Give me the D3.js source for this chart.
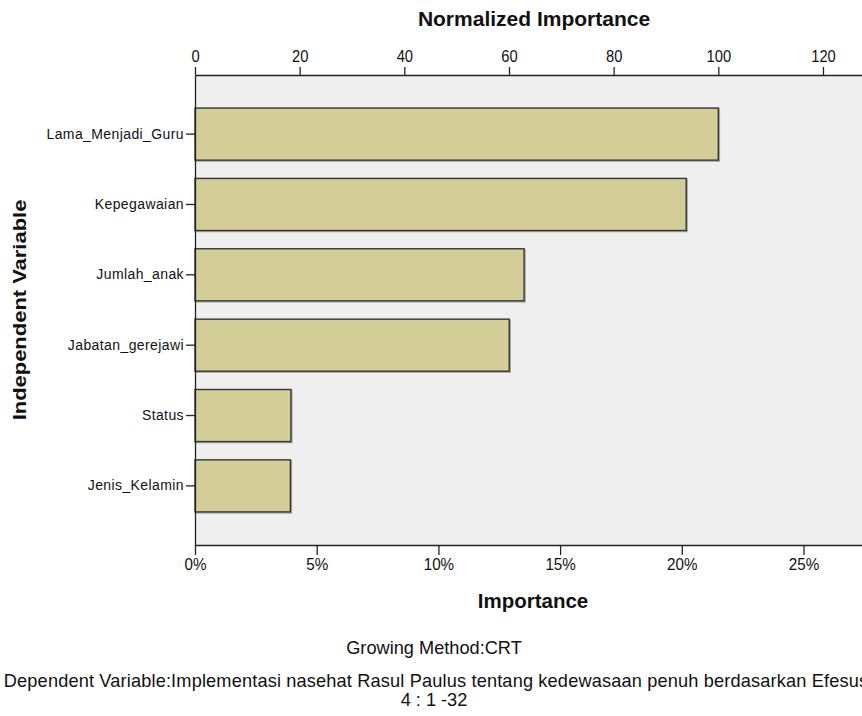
<!DOCTYPE html>
<html>
<head>
<meta charset="utf-8">
<script src="https://cdn.jsdelivr.net/npm/d3@7"></script>
<style>
  body { margin: 0; background: #fff; }
  svg { display: block; }
</style>
</head>
<body>
<div id="chart"></div>
<script>
const variables = ['Lama_Menjadi_Guru', 'Kepegawaian', 'Jumlah_anak', 'Jabatan_gerejawi', 'Status', 'Jenis_Kelamin']
const importance = [0.2150, 0.2018, 0.1352, 0.1291, 0.0394, 0.0392]
const normalizedTicks = [0, 20, 40, 60, 80, 100, 120]
const importanceTicks = [0, 0.05, 0.10, 0.15, 0.20, 0.25]

const width = 862
const height = 716
const plot = { left: 195, top: 75, bottom: 545 }
const pxPerPct = 24.34

const svg = d3.select('#chart')
  .append('svg')
  .attr('width', width)
  .attr('height', height)

const maxImp = d3.max(importance)
const xMax = 0.29

const xScale = d3.scaleLinear()
  .domain([0, xMax])
  .range([plot.left, plot.left + xMax * 100 * pxPerPct])

const xNorm = d3.scaleLinear()
  .domain([0, xMax / maxImp * 100])
  .range(xScale.range())

const yScale = d3.scaleBand()
  .domain(variables)
  .range([plot.top, plot.bottom])
  .paddingInner(0.26)
  .paddingOuter(0.47)

const font = "'Liberation Sans', Arial, sans-serif"

// plot background
svg.append('rect')
  .attr('x', plot.left)
  .attr('y', plot.top)
  .attr('width', width - plot.left)
  .attr('height', plot.bottom - plot.top)
  .attr('fill', '#efefef')

const data = variables.map((v, i) => ({ name: v, value: importance[i] }))

// soft shadow under the bars
svg.selectAll('.shadow')
  .data(data)
  .enter().append('rect')
  .attr('class', 'shadow')
  .attr('x', plot.left + 1)
  .attr('y', d => yScale(d.name) + 1)
  .attr('width', d => xScale(d.value) - plot.left)
  .attr('height', yScale.bandwidth())
  .attr('fill', 'none')
  .attr('stroke', '#a8a8a8')
  .attr('stroke-width', 1.5)

svg.selectAll('.bar')
  .data(data)
  .enter().append('rect')
  .attr('class', 'bar')
  .attr('x', plot.left)
  .attr('y', d => yScale(d.name))
  .attr('width', d => xScale(d.value) - plot.left)
  .attr('height', yScale.bandwidth())
  .attr('fill', '#d3ce98')
  .attr('stroke', '#353535')
  .attr('stroke-width', 1.4)

// top axis (normalized importance)
const topAxis = svg.append('g')
  .attr('transform', `translate(0,${plot.top})`)
  .call(d3.axisTop(xNorm).tickValues(normalizedTicks).tickSize(8).tickPadding(5).tickSizeOuter(0))
topAxis.select('.domain').attr('stroke', '#222').attr('stroke-width', 1.3)
topAxis.selectAll('.tick line').attr('stroke', '#222').attr('stroke-width', 1.3)
topAxis.selectAll('.tick text')
  .attr('font-family', font)
  .attr('font-size', 16)
  .attr('transform', 'scale(0.92,1)')
  .attr('fill', '#111')

// bottom axis (importance)
const bottomAxis = svg.append('g')
  .attr('transform', `translate(0,${plot.bottom})`)
  .call(d3.axisBottom(xScale).tickValues(importanceTicks).tickFormat(d3.format('.0%')).tickSize(10).tickPadding(4).tickSizeOuter(0))
bottomAxis.select('.domain').attr('stroke', '#222').attr('stroke-width', 1.3)
bottomAxis.selectAll('.tick line').attr('stroke', '#222').attr('stroke-width', 1.3)
bottomAxis.selectAll('.tick text')
  .attr('font-family', font)
  .attr('font-size', 16)
  .attr('transform', 'scale(0.95,1)')
  .attr('fill', '#111')

// left axis (variables)
const leftAxis = svg.append('g')
  .attr('transform', `translate(${plot.left},0)`)
  .call(d3.axisLeft(yScale).tickSize(9).tickPadding(2).tickSizeOuter(0))
leftAxis.select('.domain').attr('stroke', '#222').attr('stroke-width', 1.3)
leftAxis.selectAll('.tick line').attr('stroke', '#222').attr('stroke-width', 1.3)
leftAxis.selectAll('.tick text')
  .attr('font-family', font)
  .attr('font-size', 14)
  .attr('letter-spacing', 0.4)
  .attr('fill', '#111')

// titles
svg.append('text')
  .attr('x', 534)
  .attr('y', 26)
  .attr('text-anchor', 'middle')
  .attr('font-family', font)
  .attr('font-weight', 'bold')
  .attr('font-size', 21)
  .attr('fill', '#111')
  .text('Normalized Importance')

svg.append('text')
  .attr('x', 533)
  .attr('y', 608)
  .attr('text-anchor', 'middle')
  .attr('font-family', font)
  .attr('font-weight', 'bold')
  .attr('font-size', 20.5)
  .attr('fill', '#111')
  .text('Importance')

svg.append('text')
  .attr('transform', 'translate(26,310) rotate(-90) scale(1.22,1)')
  .attr('text-anchor', 'middle')
  .attr('font-family', font)
  .attr('font-weight', 'bold')
  .attr('font-size', 18)
  .attr('fill', '#111')
  .text('Independent Variable')

svg.append('text')
  .attr('x', 434)
  .attr('y', 654)
  .attr('text-anchor', 'middle')
  .attr('font-family', font)
  .attr('font-size', 18.2)
  .attr('fill', '#111')
  .text('Growing Method:CRT')

svg.append('text')
  .attr('x', 436)
  .attr('y', 687)
  .attr('text-anchor', 'middle')
  .attr('font-family', font)
  .attr('font-size', 18.2)
  .attr('letter-spacing', 0.15)
  .attr('fill', '#111')
  .text('Dependent Variable:Implementasi nasehat Rasul Paulus tentang kedewasaan penuh berdasarkan Efesus')

svg.append('text')
  .attr('x', 434)
  .attr('y', 706)
  .attr('text-anchor', 'middle')
  .attr('font-family', font)
  .attr('font-size', 18.2)
  .attr('fill', '#111')
  .text('4 : 1 -32')
</script>
</body>
</html>
